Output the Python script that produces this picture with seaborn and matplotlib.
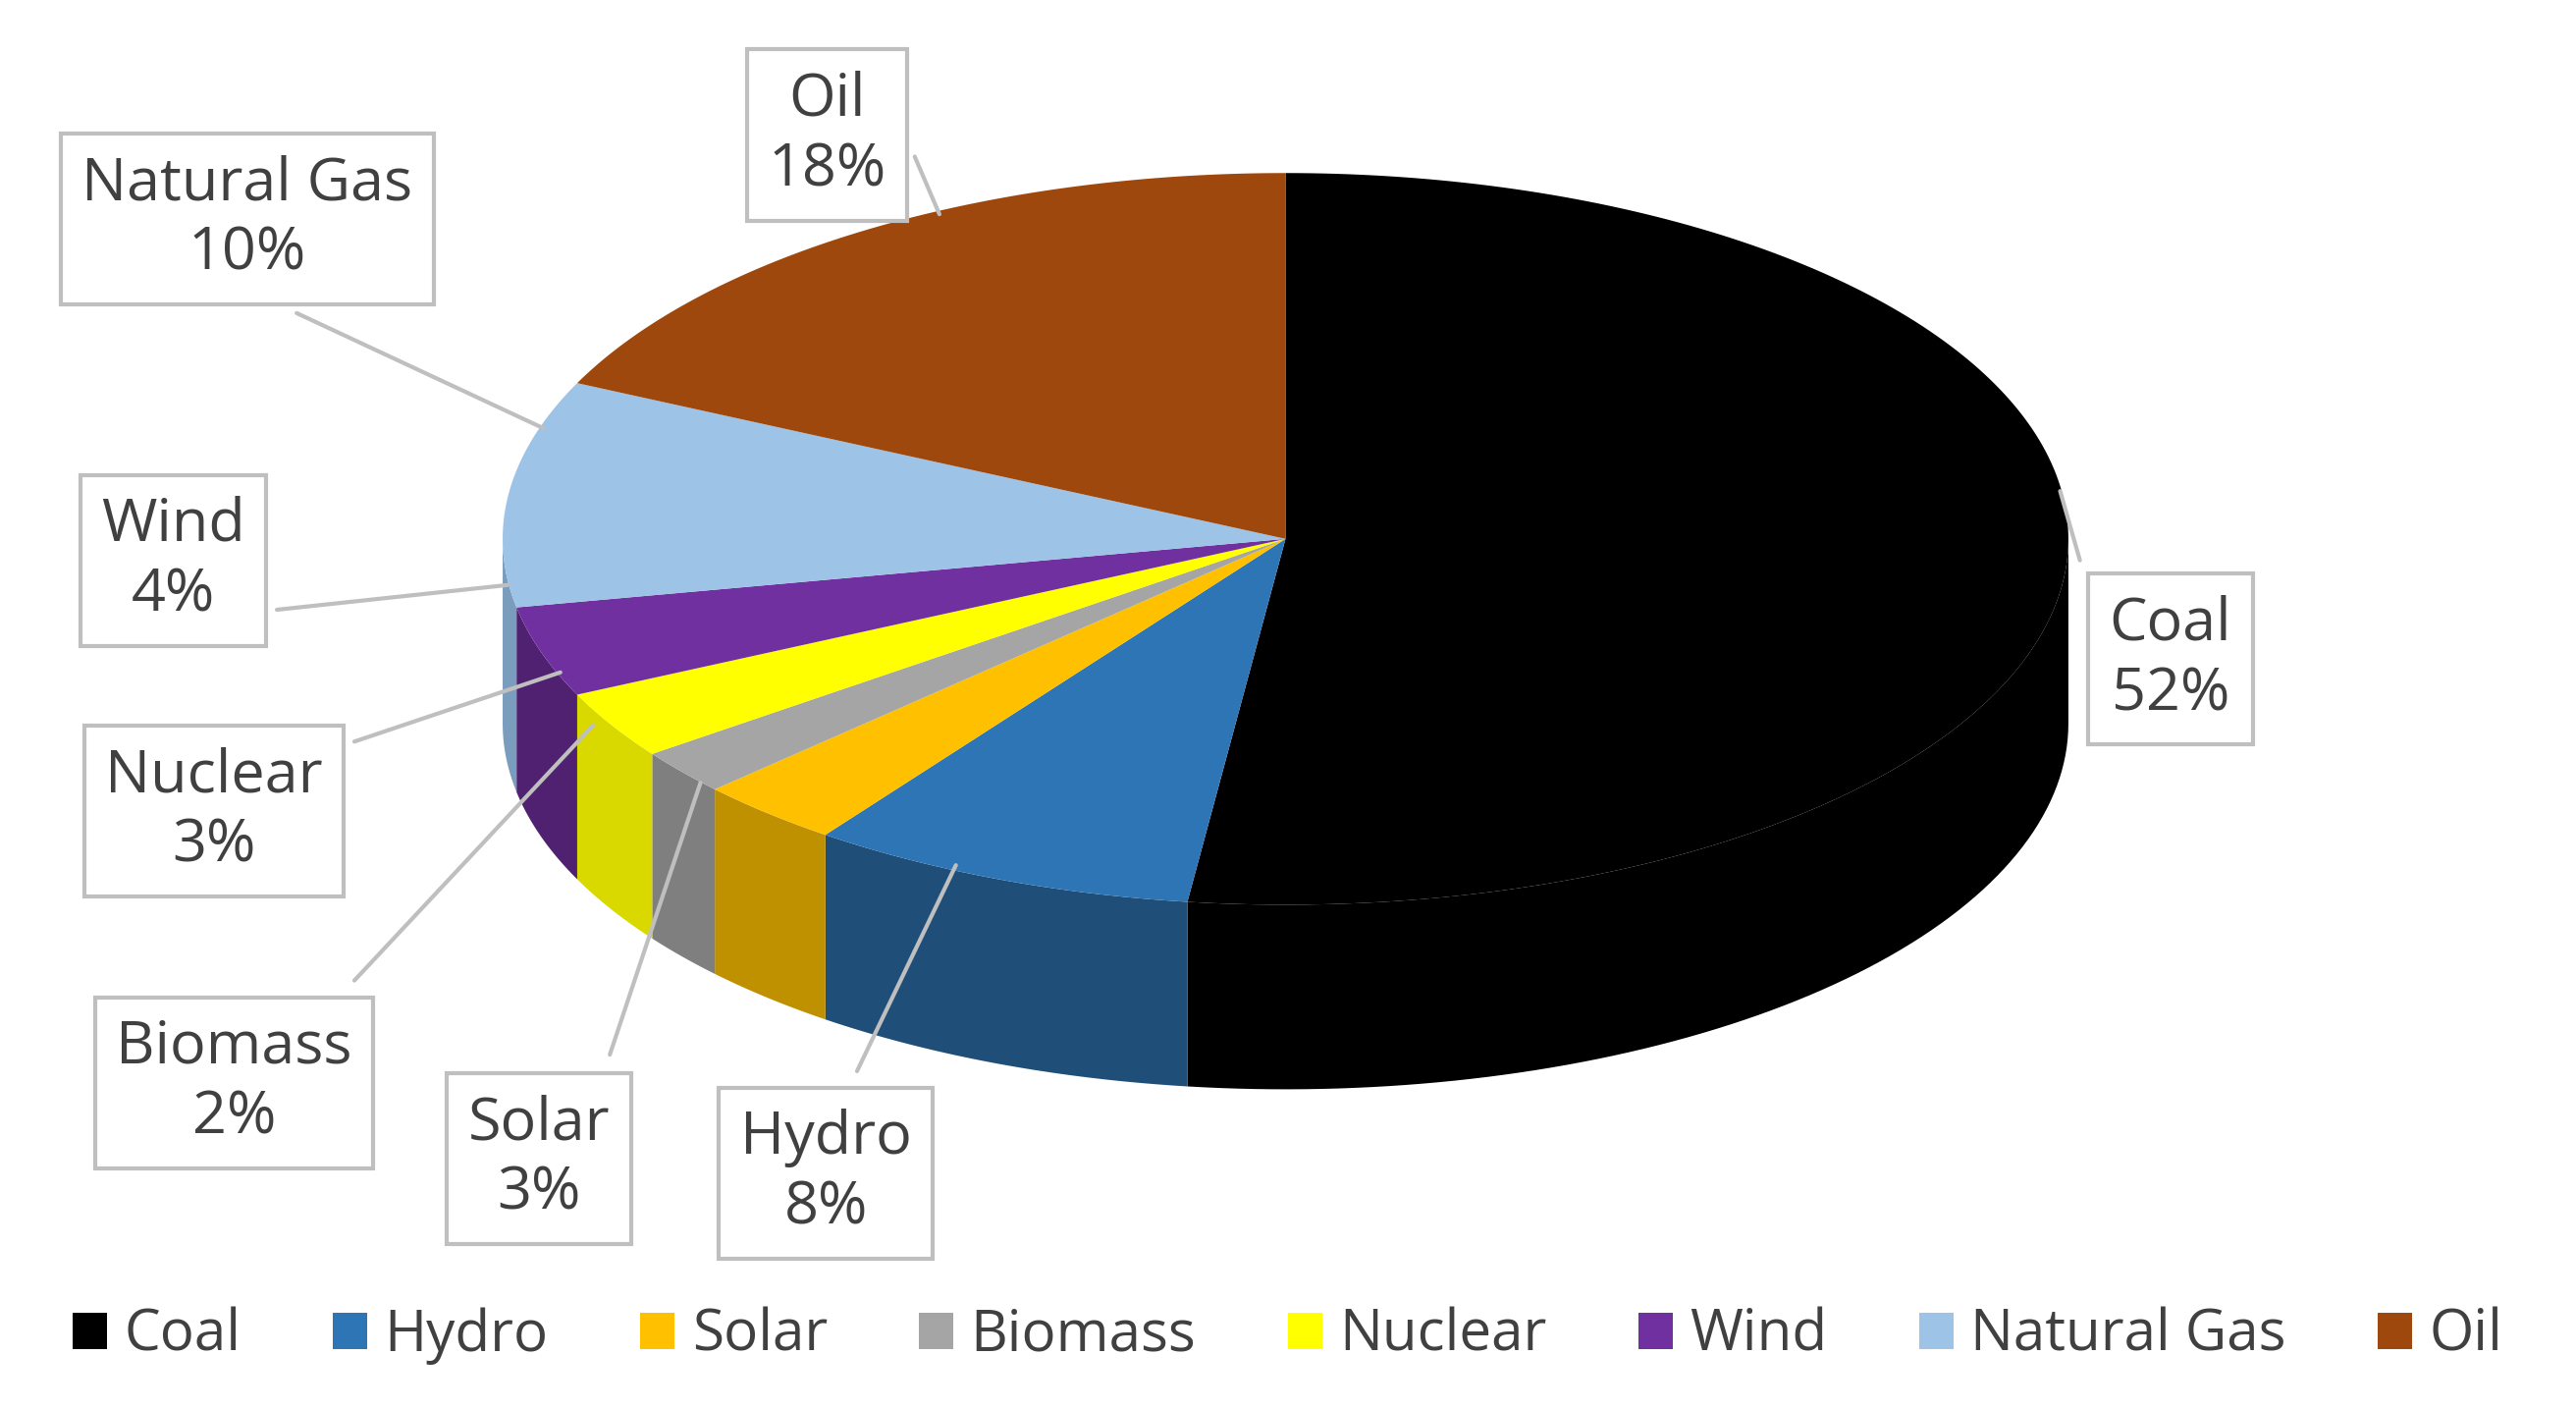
import numpy as np
import seaborn as sns
import matplotlib.pyplot as plt
from matplotlib.patches import Polygon, Patch

sources = ['Coal', 'Hydro', 'Solar', 'Biomass', 'Nuclear', 'Wind', 'Natural Gas', 'Oil']
shares = [52, 8, 3, 2, 3, 4, 10, 18]
colors = ['#000000', '#2E75B6', '#FFC000', '#A5A5A5', '#FFFF00', '#7030A0', '#9DC3E6', '#9E480E']
sides = ['#000000', '#1F4E79', '#BF9000', '#7F7F7F', '#D9D900', '#4F2170', '#7A9CBD', '#6E320A']

# label box centres and leader targets (layout only)
label_pos = {'Coal': (1317, 400), 'Hydro': (501, 712), 'Solar': (327, 703), 'Biomass': (142, 657),
             'Nuclear': (130, 492), 'Wind': (105, 340), 'Natural Gas': (150, 133), 'Oil': (502, 82)}
leader_from = {'Coal': (1262, 340), 'Hydro': (520, 650), 'Solar': (370, 640), 'Biomass': (215, 595),
               'Nuclear': (215, 450), 'Wind': (168, 370), 'Natural Gas': (180, 190), 'Oil': (555, 95)}
leader_to = {'Coal': (1250, 298), 'Hydro': (580, 525), 'Solar': (425, 475), 'Biomass': (360, 440),
             'Nuclear': (340, 408), 'Wind': (308, 355), 'Natural Gas': (330, 260), 'Oil': (570, 130)}

sns.set_style('white')
plt.rcParams['font.family'] = ['Open Sans', 'DejaVu Sans']

fig = plt.figure(figsize=(26.24, 14.35), dpi=100)
ax = fig.add_axes([0, 0, 1, 1])
ax.set_xlim(0, 1563)
ax.set_ylim(855, 0)
ax.axis('off')

cx, cy, rx, ry, depth = 780, 327, 475, 222, 112

def pt(t, dy=0):
    return np.column_stack([cx + rx * np.cos(t), cy - ry * np.sin(t) + dy])

fr = np.array(shares) / sum(shares)
bounds = np.deg2rad(90 - 360 * np.concatenate([[0], np.cumsum(fr)]))

# front walls
for i in range(len(sources)):
    a0, a1 = bounds[i + 1], bounds[i]
    lo, hi = a0, a1
    # visible lower half: angles in (-pi, 0) mod 2pi
    for k in range(-2, 2):
        s, e = max(lo, -np.pi + 2 * np.pi * k), min(hi, 2 * np.pi * k)
        if e > s:
            t = np.linspace(s, e, 80)
            poly = np.vstack([pt(t), pt(t[::-1], depth)])
            ax.add_patch(Polygon(poly, closed=True, fc=sides[i], ec='none', zorder=1))

# top surface
for i in range(len(sources)):
    t = np.linspace(bounds[i + 1], bounds[i], 200)
    poly = np.vstack([[cx, cy], pt(t)])
    ax.add_patch(Polygon(poly, closed=True, fc=colors[i], ec='none', zorder=2))

for i, name in enumerate(sources):
    x, y = label_pos[name]
    ax.plot([leader_from[name][0], leader_to[name][0]], [leader_from[name][1], leader_to[name][1]],
            color='#BFBFBF', lw=3, zorder=3)
    ax.text(x, y, f'{name}\n{shares[i]}%', ha='center', va='center', fontsize=44, color='#404040',
            linespacing=1.25, zorder=4,
            bbox=dict(boxstyle='square,pad=0.35', fc='white', ec='#BFBFBF', lw=3))

handles = [Patch(fc=c, ec='none') for c in colors]
ax.legend(handles, sources, ncol=8, loc='lower center', bbox_to_anchor=(0.5, -0.005), frameon=False,
          fontsize=42, handlelength=0.6, handleheight=0.6, handletextpad=0.3, columnspacing=1.6,
          labelcolor='#404040')

fig.savefig('out.png', dpi=100)
